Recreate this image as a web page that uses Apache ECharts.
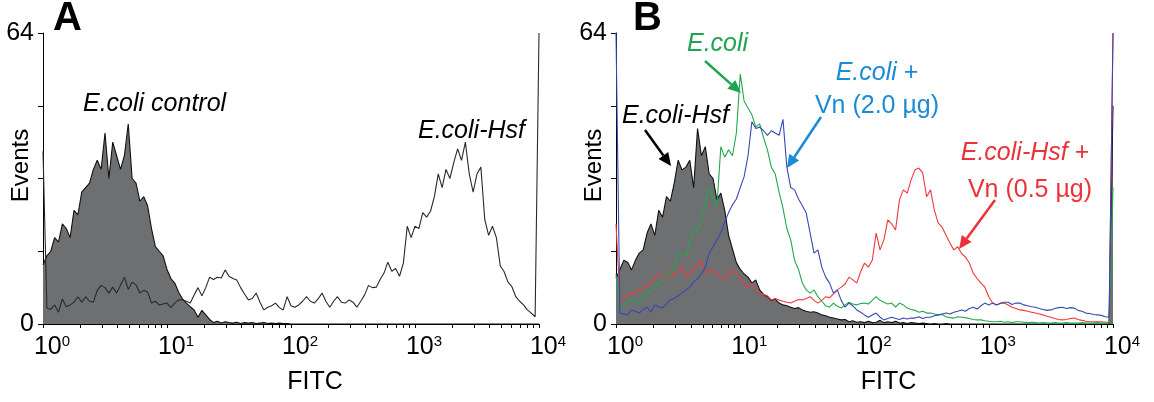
<!DOCTYPE html>
<html><head><meta charset="utf-8">
<script src="https://cdn.jsdelivr.net/npm/echarts@6/dist/echarts.min.js"></script>
<style>html,body{margin:0;padding:0;background:#fff}#c{width:1154px;height:402px}</style>
</head><body><div id="c"></div>
<script>
// channel layout of the cytometer: 32 channels per decade, 10^0 .. 10^4
const CHANNELS_PER_DECADE = 32;
const CHANNEL_COUNT = 129;
const decadeTicks = [1, 10, 100, 1000, 10000];
const yTickLabels = [0, 64];

// Panel A
const aControl = [13,15,16,19,18,22,21,19,25,24, 29,30,31,34,36,34,42,32,40,37, 34,37,44,32,31,27,28,26,21,17, 16,15,12,10,9,7,5.5,4.6,3.8,3.1,
  1.5,3,2,1,0.3,0.6,0.2,0.5,0.3,0.2, 0.4,0.1,0.3,0.2,0.3,0.1,0.2,0.3,0.1,0.2, 0.1,0.2,0.1,0.1,0,0,0,0,0,0,
  0,0,0,0,0,0,0,0,0,0, 0,0,0,0,0,0,0,0,0,0, 0,0,0,0,0,0,0,0,0,0, 0,0,0,0,0,0,0,0,0,0, 0,0,0,0,0,0,0,0,0,0, 0,0,0,0,0,0,0,0,0];
const aHsf = [38,3.5,3.2,4.2,2.6,5.5,3.8,4.2,4.8,6, 4.8,6,5,4.8,7.4,8.5,8,6.8,8.1,6.8, 8.5,10.3,7.6,9.2,8.6,6.8,7.4,7,4.6,5,
  4.2,4.4,4.6,3.6,4.6,5.3,5.3,5,4.6,6.4, 8,6.2,8,10.3,9.8,10.3,10.1,11.9,10.5,10, 9.7,8,6.6,5.3,5.6,6.8,4.8,3.1,3.7,4,
  4.6,3.6,3.1,6,4,3.7,4.2,5,6,5, 4.6,5.5,6.8,5,3.7,5,6,4.8,4.6,5.3, 4.8,3.7,5,6.4,8.5,8,8.1,9.8,11.2,13.6,
  11.6,12.2,10.5,13.4,21.5,19,21.5,21,24.5,23.5, 24.8,28,33,30,34,32,35.5,38.5,36,40, 33,29,33,34.5,23,19.5,21.5,19,12.8,11.5,
  9.2,8.2,6,5,4.2,3.1,2.4,1.6,64];

// Panel B
const bHsf = [10,12,14,13.6,11.9,14,15.6,16.3,20,22, 19.5,25,23.5,28,27,31,36,33.9,34.5,36, 30,43,37,39,33,32,27.3,28.8,25,19.5,
  16.5,13.5,12,11,10.3,9,9.7,7.5,6.5,6, 5.2,5.5,4.6,4.2,4,3.7,3.4,3.6,3.1,2.8, 2.6,2.7,2.4,2,1.8,1.5,1.3,1.1,0.9,1,
  0.5,0.7,0.4,0.5,0.3,0.6,0.3,0.4,0.8,0.3, 0.5,0.3,0.6,0.2,0.3,0.1,0.3,0.2,0.1,0.2, 0.1,0,0.1,0,0,0.1,0,0,0,0,
  0,0,0,0,0,0,0,0,0,0, 0,0,0,0,0,0,0,0,0,0, 0,0,0,0,0,0,0,0,0,0, 0,0,0,0,0,0,0,0,48];
const bEcoli = [11,3.7,4.2,4.8,5.3,4.9,4.8,6.2,6.8,7.3, 8,9,9.5,10.5,11.4,12.5,15.6,15,15,18, 21,20.5,23,26,30,27.5,26,39,36.7,38.3,
  37,42,55,49,47.5,46,43.3,44,41,38.3, 34.5,33,29,25.5,21,18.5,14,12,9,7.5, 6.8,7.5,6,5,4,3.7,4.6,3.9,3.5,4.2,
  4.8,4.4,4.2,4.5,4.6,4.4,5.2,6,5.2,4.8, 4.4,4.6,3.7,4.6,4.2,3.5,3.2,3,2.6,2.8, 2.4,2.4,2.2,2,2.1,1.6,1.4,1.3,1.6,1.5,
  1.4,1.2,1,0.9,0.9,0.7,0.6,0.5,0.5,0.6, 0.4,0.5,0.3,0.5,0.5,0.4,0.3,0.4,0.3,0.2, 0.3,0.2,0.2,0.3,0.2,0.2,0.3,0.2,0.2,0.2,
  0.3,0.2,0.2,0.2,0.3,0.2,0.2,0.2,30];
const bEcoliVn = [64,2.4,2.2,2,3.1,2.8,2.4,3.2,3.7,2.6, 4.2,3.8,3.5,4.4,5.3,5.6,6.2,6.8,7.5,8.1, 9.2,10,11,12.5,15.5,17,18.5,20,22.5,24.5,
  26.2,27.5,30,32.4,37,44.5,43,43.3,42.5,41.5, 42.5,42,41.5,45,34.5,30,29.5,27.5,26,24.4, 20,15.6,16.3,12.5,10.3,9,6.8,7.5,5.2,3.7,
  4.6,4,3.1,2.6,2,1.5,2,2.4,1.5,0.9, 1.2,1.5,1.2,1,1.3,1.1,1.3,1.3,1.6,1.2, 1.5,1.5,1.8,2,2.2,2.4,2.2,2.6,2.8,3.1,
  2.8,3.4,3.7,3.3,4,4.6,4.2,4.6,4.2,4.5, 4.8,4.8,4.3,4.6,4.6,4.2,4,3.8,3.7,3.4, 3.2,3,3.1,3.4,3.6,3.7,3.4,3.6,3.5,3,
  2.8,2.4,2.3,2.1,2,1.9,1.6,1.5,64];
const bHsfVn = [22,5.3,5.6,6.2,6.8,6.8,7.5,7.9,8.3,9.2, 10.3,11,10.5,9.7,11.9,10.6,11.6,12.5,10.3,11.2, 12,13,14,11.2,11.6,11.9,11,10.3,9.7,10.8,
  11.9,11,10.3,8.5,8.1,9,7.8,6.8,6.5,6.2, 5.3,5.6,5.3,5,4.8,4.6,5,5.4,5.3,5.6, 6,5.2,4.6,5.2,6,5.8,6.6,7.5,8.1,8.8,
  10.3,9.7,9,11.5,13.4,12.5,14,20,16.3,18.5, 22.9,22,20.7,27.3,29.5,28.8,31.7,33.9,34.3,33.2, 28,29.5,25,22.2,21.3,19.5,17.8,16.3,17,15.5,
  14.7,13.4,11.2,10,9,8.1,6,4.6,4.2,4.6, 4.6,4.2,3.7,3.4,3.1,3,2.8,2.6,2.4,2.2, 2,1.7,1.5,1.2,1,0.9,1,1.2,1.3,1,
  0.8,0.6,0.5,0.5,0.5,0.5,0.4,0.4,64];

// channel -> FITC intensity (instrument binning)
const channelFITC = Array.from({length: CHANNEL_COUNT}, (_, i) => Math.pow(10, i / CHANNELS_PER_DECADE));
const pairs = vals => vals.map((v, i) => [channelFITC[i], v]);
const minorTicks = [];
for (let d = 0; d < 4; d++) for (let k = 1; k < 10; k++) minorTicks.push(k * Math.pow(10, d));
minorTicks.push(10000);

const FONT = '"Liberation Sans", Arial, Helvetica, sans-serif';

function xAxis(gi) {
  return {
    type: 'log', logBase: 10, min: 1, max: 10000, gridIndex: gi,
    axisLine: {show: true, lineStyle: {color: '#000', width: 1}},
    axisTick: {show: true, customValues: minorTicks, length: 4, inside: false, lineStyle: {color: '#000', width: 1}},
    axisLabel: {
      customValues: decadeTicks, margin: 10, color: '#000', hideOverlap: false,
      formatter: v => '{s|}{b|10}{e|' + Math.round(Math.log10(v)) + '}',
      rich: {
        s: {width: 18},
        b: {fontSize: 25, fontFamily: FONT, color: '#000', lineHeight: 26},
        e: {fontSize: 15, fontFamily: FONT, color: '#000', verticalAlign: 'top', lineHeight: 16}
      }
    },
    splitLine: {show: false}, minorTick: {show: false},
    name: 'FITC', nameLocation: 'middle', nameGap: 46, nameMoveOverlap: false,
    nameTextStyle: {fontSize: 25, fontFamily: FONT, color: '#000', padding: [0, 0, 0, 48]}
  };
}
function yAxis(gi) {
  return {
    type: 'value', min: 0, max: 64, interval: 16, gridIndex: gi,
    axisLine: {show: true, lineStyle: {color: '#000', width: 1}},
    axisTick: {show: true, length: 5, lineStyle: {color: '#000'}},
    axisLabel: {margin: 9, fontSize: 25, fontFamily: FONT, color: '#000',
      formatter: v => yTickLabels.includes(v) ? String(v) : ''},
    splitLine: {show: false},
    name: 'Events', nameLocation: 'middle', nameRotate: 90, nameGap: 10, nameMoveOverlap: false,
    nameTextStyle: {fontSize: 24, fontFamily: FONT, color: '#000', padding: [0, 0, 0, 26]}
  };
}
function line(data, gi, color, extra) {
  return Object.assign({
    type: 'line', xAxisIndex: gi, yAxisIndex: gi, data: pairs(data), showSymbol: false, symbol: 'none',
    lineStyle: {color: color, width: 1.1}, silent: true, clip: true
  }, extra || {});
}
function arrow(x1, y1, x2, y2, color) {
  const dx = x2 - x1, dy = y2 - y1, L = Math.hypot(dx, dy), ux = dx / L, uy = dy / L, hl = 13, hw = 6;
  const bx = x2 - ux * hl, by = y2 - uy * hl;
  return [
    {type: 'line', shape: {x1: x1, y1: y1, x2: bx, y2: by}, style: {stroke: color, lineWidth: 2.5}},
    {type: 'polygon', shape: {points: [[x2, y2], [bx - uy * hw, by + ux * hw], [bx + uy * hw, by - ux * hw]]}, style: {fill: color}}
  ];
}
function txt(x, y, text, opt) {
  return {type: 'text', x: x, y: y, style: Object.assign({text: text, fontFamily: FONT, fontSize: 25, fill: '#000',
    align: 'left', verticalAlign: 'middle'}, opt || {})};
}
const GREEN = '#1fa552', BLUE_T = '#1a8bd5', RED = '#ea3339';

const chart = echarts.init(document.getElementById('c'), null, {renderer: 'canvas'});
chart.setOption({
  animation: false,
  backgroundColor: '#fff',
  grid: [
    {left: 43, top: 33, width: 496, height: 291, containLabel: false, outerBoundsMode: 'none'},
    {left: 616, top: 33, width: 497, height: 291, containLabel: false, outerBoundsMode: 'none'}
  ],
  xAxis: [xAxis(0), xAxis(1)],
  yAxis: [yAxis(0), yAxis(1)],
  series: [
    line(aControl, 0, '#111', {areaStyle: {color: '#6e6f71', opacity: 1}}),
    line(aHsf, 0, '#2a2a2a'),
    line(bHsf, 1, '#111', {areaStyle: {color: '#6e6f71', opacity: 1}}),
    line(bHsfVn, 1, '#ee3a3f'),
    line(bEcoli, 1, '#1fa94a'),
    line(bEcoliVn, 1, '#3848b4')
  ],
  graphic: [
    txt(53, 19, 'A', {fontSize: 40, fontWeight: 'bold'}),
    txt(633, 19, 'B', {fontSize: 40, fontWeight: 'bold'}),
    txt(83, 104.5, 'E.coli control', {fontStyle: 'italic'}),
    txt(418, 131, 'E.coli-Hsf', {fontStyle: 'italic'}),
    txt(622, 116, 'E.coli-Hsf', {fontStyle: 'italic'}),
    txt(687, 44, 'E.coli', {fontStyle: 'italic', fill: GREEN}),
    txt(877, 73.5, '{i|E.coli} +', {align: 'center', fill: BLUE_T,
      rich: {i: {fontStyle: 'italic', fontSize: 25, fontFamily: FONT, fill: BLUE_T, color: BLUE_T}}}),
    txt(877, 106, 'Vn (2.0 µg)', {align: 'center', fill: BLUE_T}),
    txt(1025, 153, '{i|E.coli-Hsf} +', {align: 'center', fill: RED,
      rich: {i: {fontStyle: 'italic', fontSize: 25, fontFamily: FONT, fill: RED, color: RED}}}),
    txt(1030, 190, 'Vn (0.5 µg)', {align: 'center', fill: RED}),
    ...arrow(705, 61, 741, 93, GREEN),
    ...arrow(821, 117, 787, 168, BLUE_T),
    ...arrow(645, 130, 671, 166, '#000'),
    ...arrow(995, 200, 959, 249, RED)
  ]
});
</script>
</body></html>
